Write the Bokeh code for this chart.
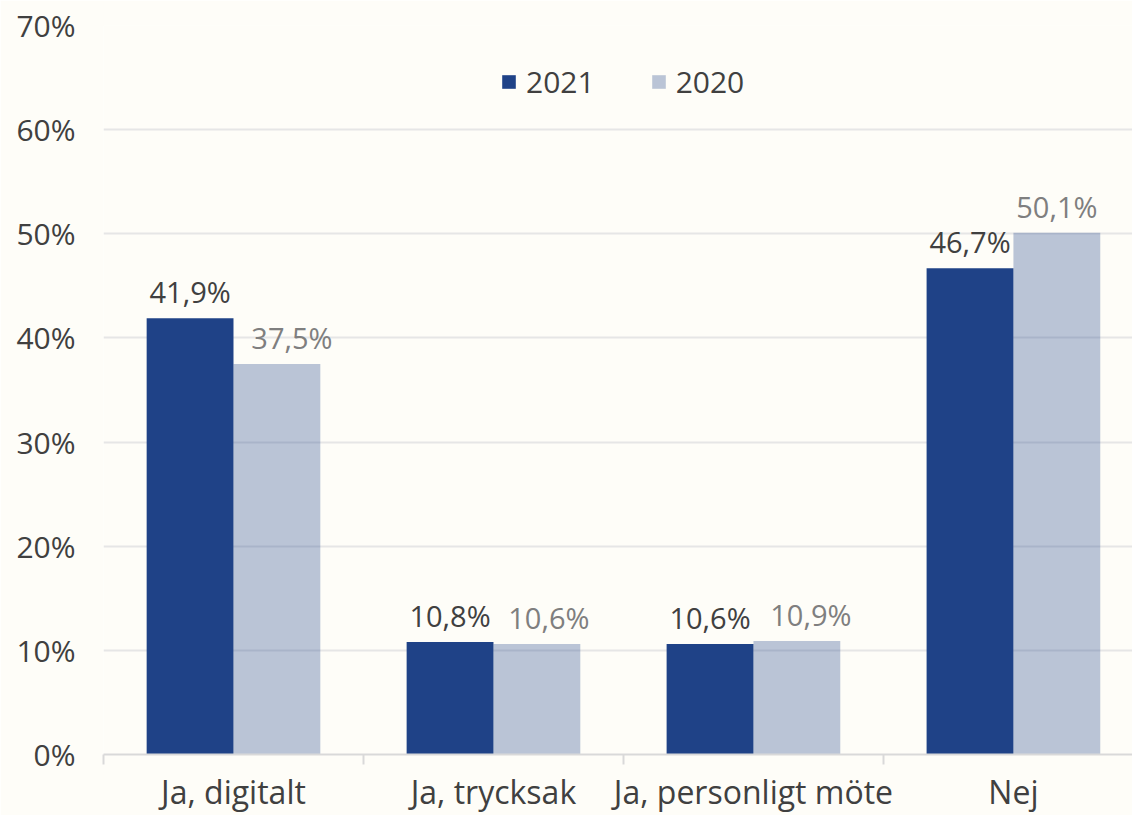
from bokeh.plotting import figure
from bokeh.models import (ColumnDataSource, Range1d, FixedTicker, Legend, LegendItem)
from bokeh.core.properties import value
from bokeh.embed import file_html
from bokeh.resources import INLINE

# ---- data ----
categories = ["Ja, digitalt", "Ja, trycksak", "Ja, personligt möte", "Nej"]
series_names = ["2021", "2020"]
values_2021 = [41.9, 10.8, 10.6, 46.7]
values_2020 = [37.5, 10.6, 10.9, 50.1]
y_ticks = [0, 10, 20, 30, 40, 50, 60, 70]
y_tick_labels = ["0%", "10%", "20%", "30%", "40%", "50%", "60%", "70%"]

# ---- style ----
FONT = "Open Sans"
BG = "#FEFDF8"
DARK = "#1F4287"
TXT = "#404040"
GRAY_TXT = "#7F7F7F"
BAR_W = 0.334
label_dx_2020 = [15, 12, 14, 0]   # manual label nudges seen in the original

def fmt(v):
    return ("%.1f" % v).replace(".", ",") + "%"

centers = [i + 0.5 for i in range(len(categories))]
x21 = [c - BAR_W / 2 for c in centers]
x20 = [c + BAR_W / 2 for c in centers]

src21 = ColumnDataSource(dict(x=x21, top=values_2021, lab=[fmt(v) for v in values_2021]))
src20 = ColumnDataSource(dict(x=x20, top=values_2020, lab=[fmt(v) for v in values_2020],
                              dx=label_dx_2020))

p = figure(width=1132, height=815, output_backend="svg", toolbar_location=None,
           x_range=Range1d(0, 3.958), y_range=Range1d(0, 70),
           min_border_left=103, min_border_right=0, min_border_top=25, min_border_bottom=57)
p.background_fill_color = BG
p.border_fill_color = BG
p.outline_line_color = None

r21 = p.vbar(x="x", top="top", width=BAR_W, source=src21, fill_color=DARK, line_color=None)
r20 = p.vbar(x="x", top="top", width=BAR_W, source=src20, fill_color=DARK,
             fill_alpha=0.3, line_color=None)

p.text(x="x", y="top", text="lab", source=src21, text_align="center",
       text_baseline="bottom", y_offset=-7, text_font=value(FONT),
       text_font_size="29px", text_color=TXT)
p.text(x="x", y="top", text="lab", source=src20, text_align="center",
       text_baseline="bottom", y_offset=-7, x_offset="dx", text_font=value(FONT),
       text_font_size="29px", text_color=GRAY_TXT)

# grid
p.xgrid.grid_line_color = None
p.ygrid.grid_line_color = "#E6E6E6"
p.ygrid.grid_line_width = 2
p.ygrid.ticker = FixedTicker(ticks=y_ticks[1:])

# y axis
p.yaxis.ticker = FixedTicker(ticks=y_ticks)
p.yaxis.major_label_overrides = {t: l for t, l in zip(y_ticks, y_tick_labels)}
p.yaxis.axis_line_color = None
p.yaxis.major_tick_line_color = None
p.yaxis.minor_tick_line_color = None
p.yaxis.major_tick_out = 0
p.yaxis.major_tick_in = 0
p.yaxis.major_label_standoff = 28
p.yaxis.major_label_text_font = FONT
p.yaxis.major_label_text_font_size = "30px"
p.yaxis.major_label_text_color = TXT

# x axis
p.xaxis.ticker = FixedTicker(ticks=centers, minor_ticks=list(range(len(categories) + 1)))
p.xaxis.major_label_overrides = {c: n for c, n in zip(centers, categories)}
p.xaxis.axis_line_color = "#D9D9D9"
p.xaxis.axis_line_width = 2
p.xaxis.major_tick_line_color = None
p.xaxis.major_tick_out = 0
p.xaxis.major_tick_in = 0
p.xaxis.minor_tick_line_color = "#D9D9D9"
p.xaxis.minor_tick_line_width = 2
p.xaxis.minor_tick_out = 10
p.xaxis.minor_tick_in = 0
p.xaxis.major_label_standoff = 5
p.xaxis.major_label_text_font = FONT
p.xaxis.major_label_text_font_size = "32px"
p.xaxis.major_label_text_color = TXT

legend = Legend(items=[LegendItem(label=series_names[0], renderers=[r21]),
                       LegendItem(label=series_names[1], renderers=[r20])],
                orientation="horizontal", location=(397, 652),
                glyph_width=17, glyph_height=17, label_standoff=9, spacing=55,
                padding=0, margin=0, border_line_color=None, background_fill_alpha=0,
                label_text_font=FONT, label_text_font_size="30px", label_text_color=TXT)
p.add_layout(legend)

open("out.html", "w").write(file_html(p, INLINE))
